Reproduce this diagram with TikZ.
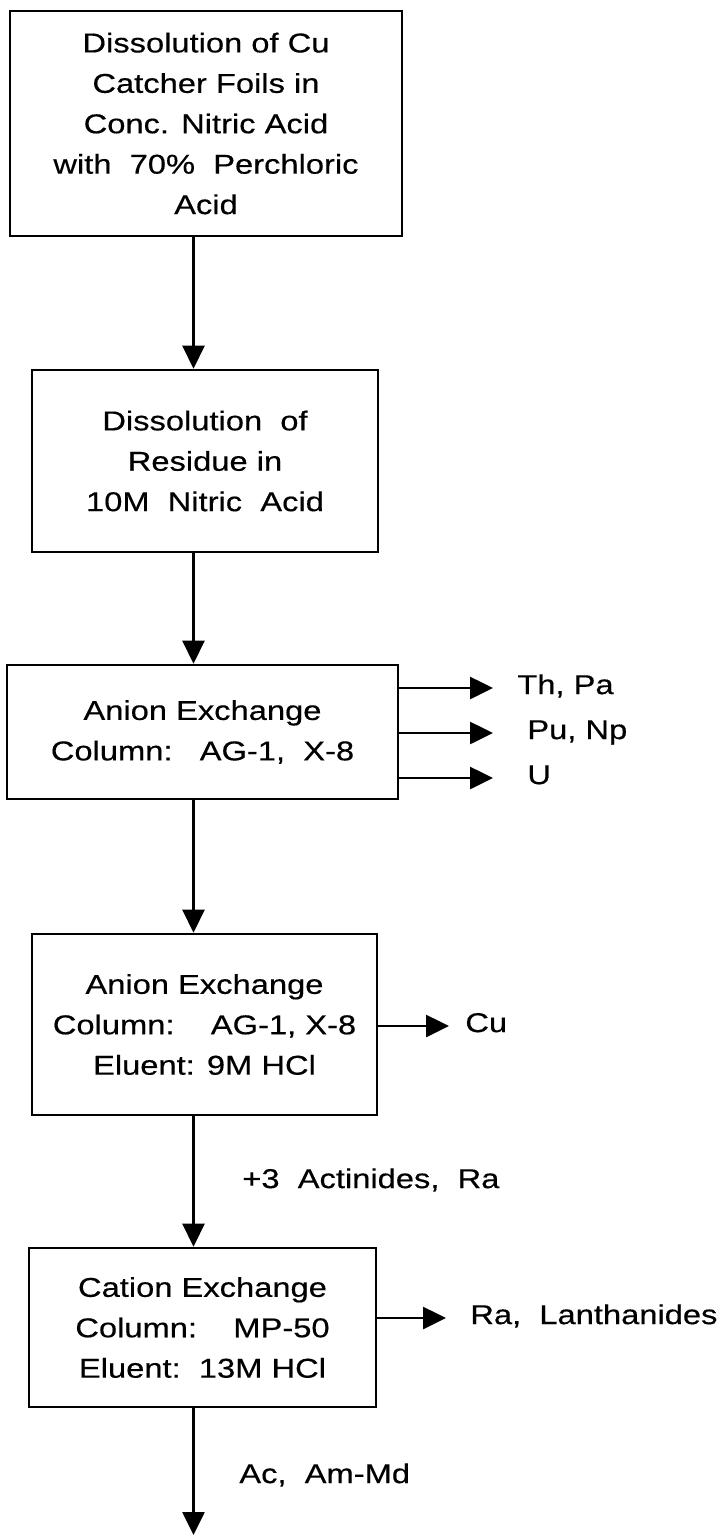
\documentclass[tikz,border=0pt]{standalone}
\usepackage{fontspec}
\setmainfont[FakeStretch=1.2, FakeBold=0.4]{Liberation Sans}
\usetikzlibrary{arrows.meta, calc}

\begin{document}
\begin{tikzpicture}[
  box/.style={draw, line width=1.5pt, align=center, inner sep=0pt, font=\fontsize{15.5}{23}\selectfont},
  arrow/.style={-{Triangle[length=4.6mm, width=4.4mm]}, line width=1.5pt},
  outlabel/.style={anchor=west, inner sep=0pt, text height=0.69em, text depth=0pt, font=\fontsize{15.5}{23}\selectfont}
]
\useasboundingbox (0,0) rectangle (14.4,-30.74);
\node[box, minimum width=78.4mm, minimum height=45mm] at (4.12,-2.47) (dissolve) {Dissolution\ of\ Cu\\Catcher Foils in\\Conc. Nitric Acid\\with\ \ 70\%\ \ Perchloric\\Acid};
\node[box, minimum width=69.2mm, minimum height=36.4mm] at (4.10,-9.22) (residue) {Dissolution\ \ of\\Residue in\\10M\ \ Nitric\ \ Acid};
\node[box, minimum width=78.2mm, minimum height=26.8mm] at (4.05,-14.64) (anion) {Anion Exchange\\Column:\ \ \ AG-1,\ \ X-8};
\node[box, minimum width=69.0mm, minimum height=36.2mm] at (4.09,-20.49) (anionhcl) {Anion Exchange\\Column:\ \ \ \ AG-1, X-8\\Eluent: 9M HCl};
\node[box, minimum width=69.4mm, minimum height=31.8mm] at (4.05,-26.55) (cation) {Cation Exchange\\Column:\ \ \ \ MP-50\\Eluent:\ \ 13M HCl};
\node[outlabel] at (10.34,-13.76) (thpa) {Th, Pa};
\node[outlabel] at (10.54,-14.66) (punp) {Pu, Np};
\node[outlabel] at (10.54,-15.56) (uout) {U};
\node[outlabel] at (9.30,-20.52) (cu) {Cu};
\node[outlabel] at (9.40,-26.36) (ralan) {Ra,\ \ Lanthanides};
\node[outlabel] at (4.84,-23.64) (actra) {+3\ \ Actinides,\ \ Ra};
\node[outlabel] at (4.78,-29.54) (acam) {Ac,\ \ Am-Md};
\coordinate (spine) at (3.87,0);
\coordinate (outlet) at (3.87,-30.70);
\draw[arrow] (spine |- dissolve.south) -- (spine |- residue.north);
\draw[arrow] (spine |- residue.south) -- (spine |- anion.north);
\draw[arrow] (spine |- anion.south) -- (spine |- anionhcl.north);
\draw[arrow] (spine |- anionhcl.south) -- (spine |- cation.north);
\draw[arrow] (spine |- cation.south) -- (outlet);
\draw[arrow] (anion.east |- thpa.west) -- ([xshift=-4.8mm]thpa.west);
\draw[arrow] (anion.east |- punp.west) -- ([xshift=-6.8mm]punp.west);
\draw[arrow] (anion.east |- uout.west) -- ([xshift=-6.8mm]uout.west);
\draw[arrow] (anionhcl.east |- cu.west) -- ([xshift=-3.2mm]cu.west);
\draw[arrow] (cation.east |- ralan.west) -- ([xshift=-4.8mm]ralan.west);
\end{tikzpicture}
\end{document}
